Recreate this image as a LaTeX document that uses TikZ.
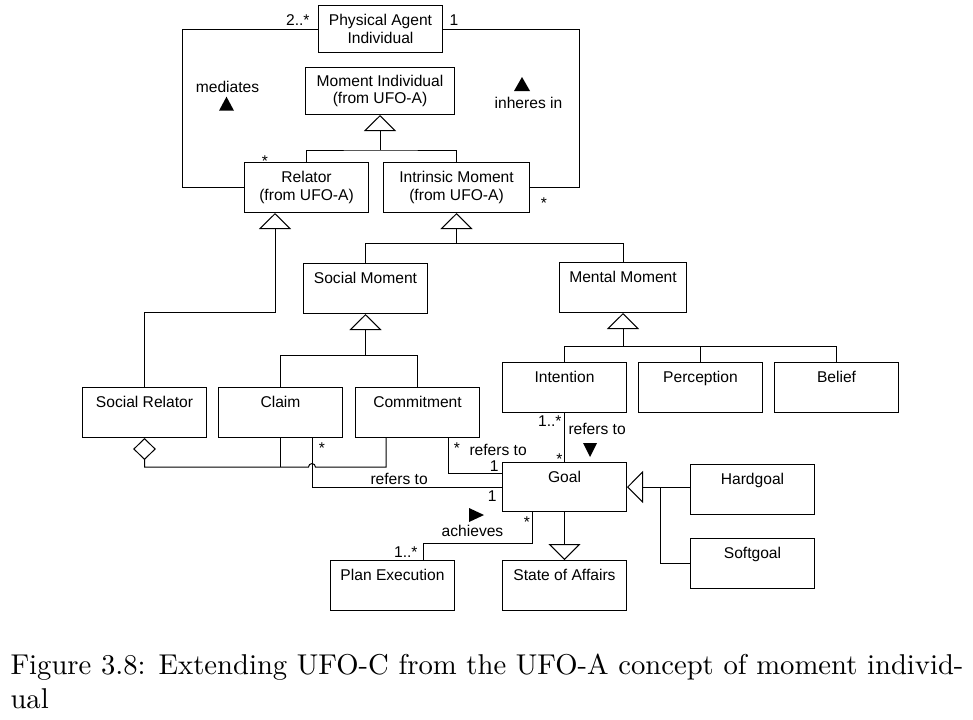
\documentclass[tikz,border=0pt]{standalone}
\usepackage{fontspec}
\newfontfamily\uml{Liberation Sans}
\newfontfamily\capfont{lmroman10-regular.otf}
\usetikzlibrary{arrows.meta,calc}
\begin{document}
\begin{tikzpicture}[x=0.75pt,y=-0.75pt,
  line width=0.75pt,
  every node/.style={font=\uml\fontsize{11.7pt}{13.3pt}\selectfont, inner sep=0pt},
  cls/.style={draw, anchor=north west, minimum width=93pt, text height=15pt, text depth=22.5pt},
  cls2/.style={draw, anchor=north west, align=center},
  gen/.style={-{Triangle[open,length=12pt,width=24pt]}},
  agg/.style={{Diamond[open,length=16.5pt,width=17pt]}-},
  captext/.style={anchor=base west, font=\capfont\fontsize{21.5pt}{27pt}\selectfont}
]
\fill[white] (0,0) rectangle (973,719);
\useasboundingbox (0,0) rectangle (973,719);

% classes
\node[cls2, minimum width=93pt, minimum height=35.25pt] (pai) at (318,5) {Physical Agent\\Individual};
\node[cls2, minimum width=111.75pt, minimum height=35.25pt] (mi) at (305,67) {Moment Individual\\(from UFO-A)};
\node[cls2, minimum width=93pt, minimum height=37.5pt] (rel) at (244,162) {Relator\\(from UFO-A)};
\node[cls2, minimum width=109.5pt, minimum height=37.5pt] (intr) at (383,162) {Intrinsic Moment\\(from UFO-A)};
\node[cls] (sm) at (303,263) {Social Moment};
\node[cls, minimum width=95.25pt] (mm) at (559,262) {Mental Moment};
\node[cls] (sr) at (82,387) {Social Relator};
\node[cls] (claim) at (218,387) {Claim};
\node[cls] (commit) at (355,387) {Commitment};
\node[cls] (intent) at (502,362) {Intention};
\node[cls] (perc) at (638,362) {Perception};
\node[cls] (belief) at (774,362) {Belief};
\node[cls, text depth=21.75pt] (goal) at (502,462) {Goal};
\node[cls] (hard) at (690,464) {Hardgoal};
\node[cls] (soft) at (690,538) {Softgoal};
\node[cls] (plan) at (330,560) {Plan Execution};
\node[cls] (soa) at (502,560) {State of Affairs};

% mediates / inheres in
\draw (pai.west) -- ++(-136,0) |- (rel.west);
\draw (pai.east) -- ++(136,0) |- (intr.east);

% generalizations
\coordinate (j1) at ($(mi.south)+(0,35)$);
\draw[gen] (j1) -- (mi.south);
\draw (rel.north) |- (j1) -| (intr.north);

\draw[gen] (sr.north) -- ++(0,-75) -| ($(rel.south west)+(31,0)$);

\coordinate (j2) at ($(intr.south)+(0,30)$);
\draw[gen] (j2) -- (intr.south);
\draw (sm.north) |- (j2) -| (mm.north);

\coordinate (j3) at ($(sm.south)+(0,41)$);
\draw[gen] (j3) -- (sm.south);
\draw (claim.north) |- (j3) -| (commit.north);

\coordinate (j4) at ($(mm.south)+(0,33)$);
\draw[gen] (j4) -- (mm.south);
\draw (intent.north) |- (j4) -| (belief.north);
\draw (perc.north) -- (perc.north |- j4);

\draw[gen] (goal.south) -- (soa.north);
\draw[gen] (hard.west |- goal.east) -- (goal.east);
\draw (soft.west) -| ($(goal.east)+(33,0)$);

% associations
\draw (intent.south) -- (intent.south |- goal.north);
\draw ($(commit.south west)+(93,0)$) |- ($(goal.north west)+(0,11)$);
\coordinate (cg) at ($(claim.south west)+(94,0)$);
\draw (cg) |- (goal.west);
\coordinate (aj) at ($(sr.south)+(0,29)$);
\draw[agg] (sr.south) -- (aj) -- ($(cg |- aj)+(-3.5,0)$) arc[start angle=180, end angle=0, radius=2.6pt] -- ($(commit.south west)+(31,29)$) -- ($(commit.south west)+(31,0)$);
\draw (claim.south) -- (claim.south |- aj);
\draw ($(goal.south west)+(30,0)$) -- ++(0,31) -| ($(plan.north west)+(93,0)$);

% labels
\node[anchor=base east] (l1) at (310,25) {2..*};
\node[anchor=base west] (l2) at (449,25) {1};
\node[anchor=base] (l3) at (227.5,92) {mediates};
\fill (219,110.7) -- (234,110.7) -- (226.5,96.7) -- cycle;
\node[anchor=base] (l4) at (528.5,108.3) {inheres in};
\fill (514,91) -- (530,91) -- (522,77) -- cycle;
\node[anchor=base] (l5) at (265,166.5) {*};
\node[anchor=base] (l6) at (544,208) {*};
\node[anchor=base] (l7) at (322,453) {*};
\node[anchor=base] (l8) at (457,453) {*};
\node[anchor=base west] (l9) at (469,455) {refers to};
\node[anchor=base east] (l10) at (499,471) {1};
\node[anchor=base west] (l11) at (370,484) {refers to};
\node[anchor=base east] (l12) at (497,501) {1};
\node[anchor=base east] (l13) at (562,426) {1..*};
\node[anchor=base] (l14) at (559.5,464) {*};
\node[anchor=base west] (l15) at (568,434) {refers to};
\fill (583,443) -- (597,443) -- (590,457) -- cycle;
\node[anchor=base] (l16) at (527,527) {*};
\node[anchor=base] (l17) at (472.5,536.7) {achieves};
\fill (469,508) -- (469,522) -- (484,515) -- cycle;
\node[anchor=base east] (l18) at (418,557) {1..*};

% caption
\node[captext] (cap1) at (10,674)
  {\makebox[714.75pt][s]{Figure 3.8: Extending UFO-C from the UFO-A concept of moment individ-}};
\node[captext] (cap2) at (10,708) {ual};
\end{tikzpicture}
\end{document}
